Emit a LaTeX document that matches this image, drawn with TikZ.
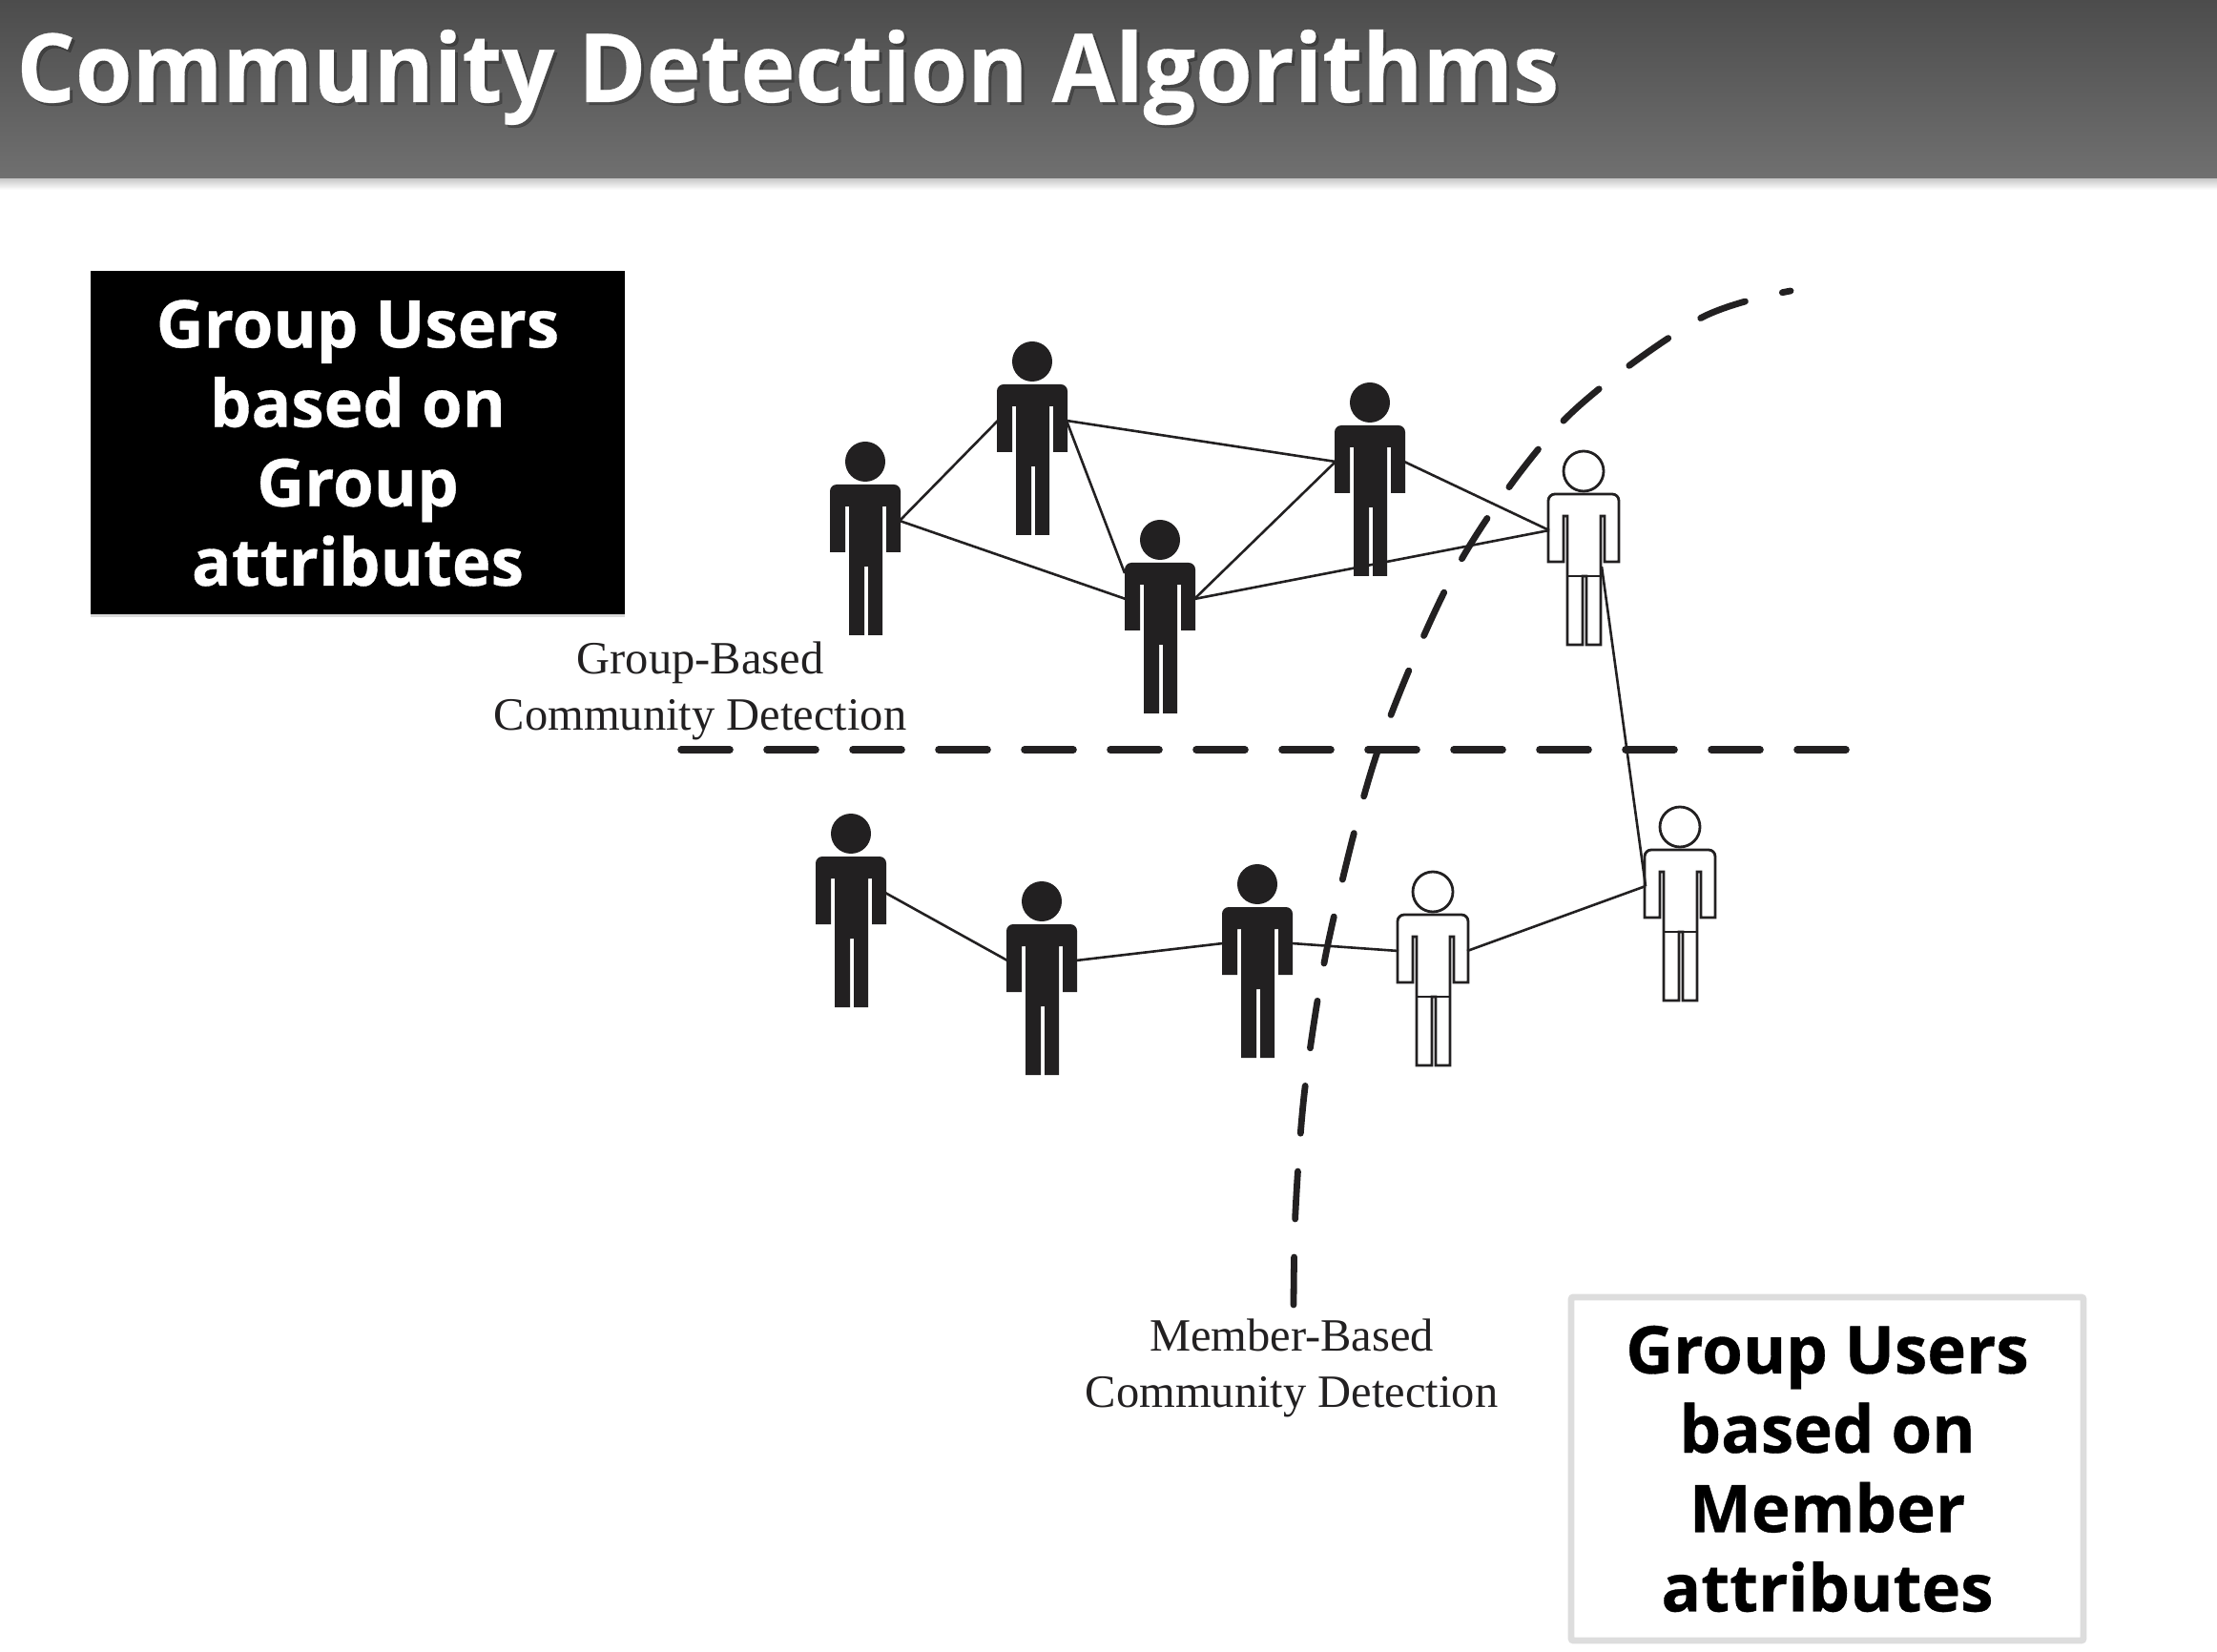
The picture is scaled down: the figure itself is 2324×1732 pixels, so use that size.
\documentclass[tikz,border=0pt]{standalone}
\usepackage{fontspec}
\setmainfont{Open Sans}
\newfontfamily\capfont{Liberation Serif}
\newfontfamily\titlefont[BoldFeatures={FakeStretch=.965,FakeBold=.3}]{Open Sans}
\newfontfamily\boxfont[BoldFeatures={FakeBold=.5}]{Open Sans}
\usetikzlibrary{shadows}
\definecolor{inkblack}{RGB}{34,32,33}
\definecolor{barTop}{RGB}{76,76,76}
\definecolor{barBottom}{RGB}{112,112,112}
\definecolor{frameGray}{RGB}{221,221,221}
\tikzset{
  person/.pic={
    \path[pic actions] (0,0) circle[radius=21];
    \path[pic actions] (-37,95) [rounded corners=3.5pt] -- (-37,24) -- (37,24) -- (37,60) [sharp corners] -- (37,95) -- (22,95) -- (22,47) -- (18,47) -- (18,182) -- (3,182) -- (3,110) -- (-1,110) -- (-1,182) -- (-17,182) -- (-17,47) -- (-21,47) -- (-21,95) -- cycle;
    \path[pic actions,fill=none] (-17,110) -- (18,110);
    \coordinate (-lh) at (-36,62);
    \coordinate (-rh) at (36,62);
    \coordinate (-sl) at (-37,35);
    \coordinate (-hip) at (19,100);
  },
  darkfig/.style={fill=inkblack,draw=none},
  lightfig/.style={fill=white,draw=inkblack,line width=1.4pt},
  linkline/.style={draw=inkblack,line width=1.3pt},
  bigdash/.style={draw=inkblack,line width=3.8pt,line cap=round,dash pattern=on 25.5pt off 19.5pt},
  curvedash/.style={draw=inkblack,line width=3.4pt,line cap=round,dash pattern=on 25pt off 20pt},
  attrbox/.style={minimum width=280pt,minimum height=180pt,inner sep=0pt,align=center,font=\boxfont\bfseries\fontsize{34.5}{41.6}\selectfont},
  caplabel/.style={inner sep=0pt,align=center,text=inkblack,font=\capfont\fontsize{24.25}{29.5}\selectfont},
}
\begin{document}
\begin{tikzpicture}[x=.5pt,y=-.5pt]
\useasboundingbox (0,0) rectangle (2324,1732);
% header bar
\shade[top color=black!22,bottom color=white] (0,187) rectangle (2324,199);
\shade[top color=barTop,bottom color=barBottom] (0,0) rectangle (2324,187);
\node[inner sep=0pt,anchor=base west,text=black,opacity=.25,font=\titlefont\bfseries\fontsize{50}{60}\selectfont] (titleshadow) at (20,110) {Community Detection Algorithms};
\node[inner sep=0pt,anchor=base west,text=white,font=\titlefont\bfseries\fontsize{50}{60}\selectfont] (title) at (17,107) {Community Detection Algorithms};
% the two boxes
\node[attrbox,fill=black,text=white,drop shadow={shadow xshift=0pt,shadow yshift=-1.5pt,opacity=.3}] (groupbox) at (375,464.5) {Group Users\\based on\\Group\\attributes};
\node[attrbox,fill=white,text=black,draw=frameGray,line width=3.3pt,rounded corners=1pt,minimum width=268.5pt,minimum height=180pt] (memberbox) at (1915.5,1540) {Group Users\\based on\\Member\\attributes};
% upper people
\pic[darkfig] (p1) at (907,484) {person};
\pic[darkfig] (p2) at (1082,379) {person};
\pic[darkfig] (p3) at (1216,566) {person};
\pic[darkfig] (p4) at (1436,422) {person};
\pic[lightfig] (p5) at (1660,494) {person};
% lower people
\pic[darkfig] (q1) at (892,874) {person};
\pic[darkfig] (q2) at (1092,945) {person};
\pic[darkfig] (q3) at (1318,927) {person};
\pic[lightfig] (q4) at (1502,935) {person};
\pic[lightfig] (q5) at (1761,867) {person};
% links
\draw[linkline] (p1-rh) -- (p2-lh);
\draw[linkline] (p1-rh) -- (p3-lh);
\draw[linkline] (p2-rh) -- (p3-sl);
\draw[linkline] (p2-rh) -- (p4-lh);
\draw[linkline] (p3-rh) -- (p4-lh);
\draw[linkline] (p3-rh) -- (p5-lh);
\draw[linkline] (p4-rh) -- (p5-lh);
\draw[linkline] (p5-hip) -- (q5-lh);
\draw[linkline] (q1-rh) -- (q2-lh);
\draw[linkline] (q2-rh) -- (q3-lh);
\draw[linkline] (q3-rh) -- (q4-lh);
\draw[linkline] (q4-rh) -- (q5-lh);
% dashed borders
\coordinate (hleft) at (714,786);
\coordinate (hright) at (1940,786);
\draw[bigdash] (hleft) -- (hright);
\coordinate (cbottom) at (1356,1368);
\coordinate (ctop) at (1877,305);
\draw[curvedash] plot[smooth] coordinates {(cbottom) (1358,1270) (1368,1140) (1393,985) (1445,785) (1530,590) (1640,440) (1780,335) (ctop)};
% labels
\node[caplabel] (grouplabel) at (734,724) {Group-Based\\Community Detection};
\node[caplabel] (memberlabel) at (1354,1434) {Member-Based\\Community Detection};
\end{tikzpicture}
\end{document}
